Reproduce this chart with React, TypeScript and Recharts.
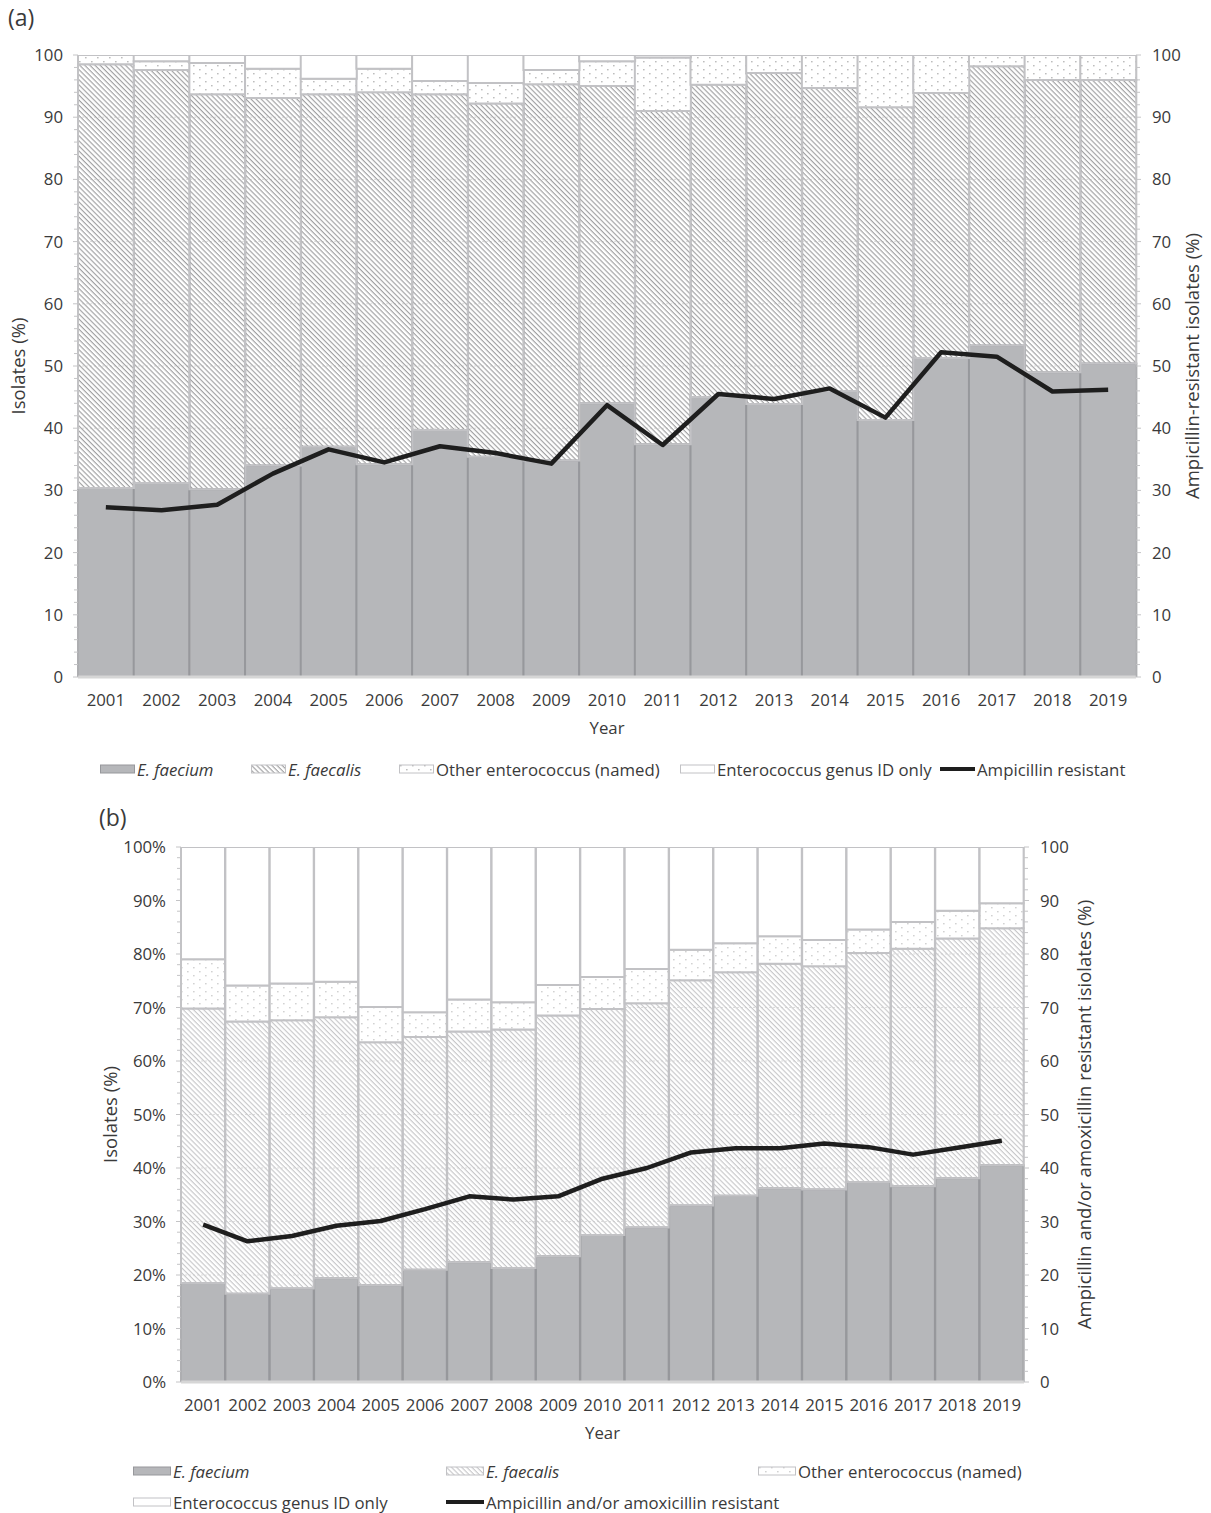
import React from 'react';
import { ComposedChart, Bar, Line, XAxis, YAxis, CartesianGrid } from 'recharts';

// ---------- data ----------
const years = ['2001', '2002', '2003', '2004', '2005', '2006', '2007', '2008', '2009', '2010',
  '2011', '2012', '2013', '2014', '2015', '2016', '2017', '2018', '2019'];

// Panel (a)
const aFaecium = [30.4, 31.2, 30.2, 34.0, 37.0, 34.2, 39.7, 35.4, 34.8, 44.0, 37.4, 45.0, 43.9, 46.0, 41.3, 51.3, 53.3, 49.0, 50.4];
const aFaecalis = [68.1, 66.4, 63.5, 59.1, 56.7, 59.8, 54.0, 56.8, 60.5, 51.0, 53.6, 50.2, 53.2, 48.7, 50.3, 42.6, 44.9, 47.0, 45.6];
const aOther = [1.5, 1.4, 5.0, 4.7, 2.5, 3.8, 2.1, 3.3, 2.3, 4.0, 8.6, 4.8, 2.9, 5.3, 8.4, 6.1, 1.8, 4.0, 4.0];
const aGenus = [0, 1.0, 1.3, 2.2, 3.8, 2.2, 4.2, 4.5, 2.4, 1.0, 0.4, 0, 0, 0, 0, 0, 0, 0, 0];
const aResistant = [27.3, 26.8, 27.7, 32.7, 36.6, 34.5, 37.1, 36.0, 34.3, 43.7, 37.3, 45.5, 44.7, 46.4, 41.7, 52.2, 51.5, 45.9, 46.2];

// Panel (b)
const bFaecium = [18.5, 16.5, 17.5, 19.4, 18.1, 21.0, 22.4, 21.3, 23.5, 27.5, 28.9, 33.0, 34.8, 36.2, 36.0, 37.4, 36.6, 38.1, 40.5];
const bFaecalis = [51.3, 50.9, 50.1, 48.8, 45.4, 43.5, 43.1, 44.6, 45.0, 42.2, 41.9, 42.1, 41.8, 42.0, 41.7, 42.8, 44.4, 44.8, 44.3];
const bOther = [9.2, 6.7, 6.9, 6.6, 6.6, 4.6, 6.0, 5.1, 5.7, 6.0, 6.4, 5.7, 5.4, 5.1, 4.9, 4.4, 5.0, 5.2, 4.7];
const bGenus = [21.0, 25.9, 25.5, 25.2, 29.9, 30.9, 28.5, 29.0, 25.8, 24.3, 22.8, 19.2, 18.0, 16.7, 17.4, 15.4, 14.0, 11.9, 10.5];
const bResistant = [29.4, 26.3, 27.3, 29.2, 30.1, 32.3, 34.7, 34.1, 34.7, 38.0, 40.0, 42.9, 43.7, 43.7, 44.6, 43.9, 42.5, 43.8, 45.1];

const yTicks = [0, 2, 4, 6, 8, 10, 12, 14, 16, 18, 20, 22, 24, 26, 28, 30, 32, 34, 36, 38, 40, 42, 44, 46, 48, 50,
  52, 54, 56, 58, 60, 62, 64, 66, 68, 70, 72, 74, 76, 78, 80, 82, 84, 86, 88, 90, 92, 94, 96, 98, 100];
const majorTicks = [0, 10, 20, 30, 40, 50, 60, 70, 80, 90, 100];

const legendA = ['E. faecium', 'E. faecalis', 'Other enterococcus (named)', 'Enterococcus genus ID only', 'Ampicillin resistant'];
const legendB = ['E. faecium', 'E. faecalis', 'Other enterococcus (named)', 'Enterococcus genus ID only', 'Ampicillin and/or amoxicillin resistant'];

// ---------- styles ----------
const FONT = '"Open Sans", "Noto Sans", sans-serif';
const TEXT = '#3a3a3a';
const FS = 16.8;
const TITLE_FS = 18.5;
const FAECIUM_FILL = '#b6b7ba';
const FAECIUM_STROKE = '#97989c';
const LIGHT_STROKE = '#c2c2c5';
const LINE_COLOR = '#1e1e1e';

const rows = (f: number[], fa: number[], o: number[], g: number[], r: number[]) =>
  years.map((year, i) => ({ year, faecium: f[i], faecalis: fa[i], other: o[i], genus: g[i], resistant: r[i] }));

const dataA = rows(aFaecium, aFaecalis, aOther, aGenus, aResistant);
const dataB = rows(bFaecium, bFaecalis, bOther, bGenus, bResistant);

const makeYTick = (side: 'left' | 'right', gap: number, suffix: string) => (props: any) => {
  const { x, y, payload } = props;
  const v = payload.value;
  const major = v % 10 === 0;
  const axisX = side === 'left' ? x + gap : x - gap;
  const len = major ? 5 : 4;
  const x2 = side === 'left' ? axisX - len : axisX + len;
  return (
    <g>
      <line x1={axisX} y1={y} x2={x2} y2={y} stroke="#c4c4c6" strokeWidth={1} />
      {major && (
        <text x={x} y={y} dy="0.36em" textAnchor={side === 'left' ? 'end' : 'start'}
          fill={TEXT} fontSize={FS} fontFamily={FONT}>{`${v}${suffix}`}</text>
      )}
    </g>
  );
};

const XTick = (props: any) => {
  const { x, y, payload } = props;
  return (
    <text x={x} y={y} dy="0.36em" textAnchor="middle" fill={TEXT} fontSize={FS} fontFamily={FONT}>
      {payload.value}
    </text>
  );
};

const gridGen = (props: any) => {
  const off = props && props.offset;
  const yAxis = props && props.yAxis;
  return majorTicks.filter((v) => v > 0 && v < 100).map((v) => {
    if (yAxis && typeof yAxis.scale === 'function') return yAxis.scale(v);
    return off.top + off.height * (1 - v / 100);
  });
};

const vLabel = (text: string, dx: number) => (props: any) => {
  const vb = props.viewBox || { x: 0, y: 0, width: 0, height: 0 };
  const cx = vb.x + dx;
  const cy = vb.y + vb.height / 2;
  return (
    <text x={cx} y={cy} dy="0.36em" textAnchor="middle" transform={`rotate(-90 ${cx} ${cy})`}
      fill={TEXT} fontSize={TITLE_FS} fontFamily={FONT}>{text}</text>
  );
};

const yearLabel = (props: any) => {
  const vb = props.viewBox || { x: 0, y: 0, width: 0, height: 0 };
  return (
    <text x={vb.x + vb.width / 2} y={vb.y + 51} dy="0.36em" textAnchor="middle" fill={TEXT}
      fontSize={FS} fontFamily={FONT}>Year</text>
  );
};

const Patterns = ({ id, hatch, dots }: { id: string; hatch: string; dots: string }) => (
  <defs>
    <pattern id={`hatch${id}`} patternUnits="userSpaceOnUse" width={4} height={3.6} patternTransform="rotate(45)">
      <line x1={0} y1={0.6} x2={4} y2={0.6} stroke={hatch} strokeWidth={1.1} />
    </pattern>
    <pattern id={`dots${id}`} patternUnits="userSpaceOnUse" width={12} height={8}>
      <rect x={0} y={0} width={12} height={8} fill="#ffffff" />
      <rect x={1} y={1} width={1.6} height={1.4} fill={dots} />
      <rect x={7} y={5} width={1.6} height={1.4} fill={dots} />
    </pattern>
  </defs>
);

type PanelProps = {
  id: string;
  data: any[];
  height: number;
  top: number;
  leftW: number;
  rightW: number;
  xTickMargin: number;
  suffix: string;
  leftTitle: string;
  rightTitle: string;
  leftTitleDx: number;
  rightTitleDx: number;
  hatch: string;
  dots: string;
};

const Panel = (p: PanelProps) => (
  <ComposedChart width={1211} height={p.height} data={p.data} barCategoryGap={0} barGap={0}
    margin={{ top: p.top, right: 0, bottom: 0, left: 0 }}>
    <Patterns id={p.id} hatch={p.hatch} dots={p.dots} />
    <CartesianGrid yAxisId="left" vertical={false} stroke="#dedede" strokeDasharray="2 2"
      horizontalCoordinatesGenerator={gridGen} />
    <XAxis dataKey="year" height={68} interval={0} tickLine={false} tickSize={6} tickMargin={p.xTickMargin}
      axisLine={{ stroke: '#d6d6d6', strokeWidth: 3 }} tick={<XTick />} label={{ content: yearLabel }} />
    <YAxis yAxisId="left" orientation="left" width={p.leftW} domain={[0, 100]} ticks={yTicks} interval={0}
      allowDataOverflow tickLine={false} tickSize={5} tickMargin={10} axisLine={{ stroke: '#c4c4c6' }}
      tick={makeYTick('left', 15, p.suffix)} label={{ content: vLabel(p.leftTitle, p.leftTitleDx) }} />
    <YAxis yAxisId="right" orientation="right" width={p.rightW} domain={[0, 100]} ticks={yTicks} interval={0}
      allowDataOverflow tickLine={false} tickSize={5} tickMargin={11} axisLine={{ stroke: '#c4c4c6' }}
      tick={makeYTick('right', 16, '')} label={{ content: vLabel(p.rightTitle, p.rightTitleDx) }} />
    <Bar yAxisId="left" dataKey="faecium" stackId="s" fill={FAECIUM_FILL} stroke={FAECIUM_STROKE}
      strokeWidth={2} isAnimationActive={false} />
    <Bar yAxisId="left" dataKey="faecalis" stackId="s" fill={`url(#hatch${p.id})`} stroke={LIGHT_STROKE}
      strokeWidth={2} isAnimationActive={false} />
    <Bar yAxisId="left" dataKey="other" stackId="s" fill={`url(#dots${p.id})`} stroke={LIGHT_STROKE}
      strokeWidth={2} isAnimationActive={false} />
    <Bar yAxisId="left" dataKey="genus" stackId="s" fill="#ffffff" stroke={LIGHT_STROKE}
      strokeWidth={2} isAnimationActive={false} />
    <Line yAxisId="right" dataKey="resistant" type="linear" stroke={LINE_COLOR} strokeWidth={4.5}
      strokeLinejoin="round" dot={false} activeDot={false} isAnimationActive={false} />
  </ComposedChart>
);

const Swatch = ({ kind, id, w }: { kind: number; id: string; w: number }) => {
  if (kind === 4) {
    return (
      <svg width={w} height={10} style={{ display: 'block' }}>
        <line x1={0} y1={5} x2={w} y2={5} stroke={LINE_COLOR} strokeWidth={4} />
      </svg>
    );
  }
  const fills = [FAECIUM_FILL, `url(#hatch${id})`, `url(#dots${id})`, '#ffffff'];
  const strokes = [FAECIUM_STROKE, LIGHT_STROKE, LIGHT_STROKE, LIGHT_STROKE];
  return (
    <svg width={w} height={10} style={{ display: 'block' }}>
      <rect x={0.5} y={1} width={w - 1} height={8} fill={fills[kind]} stroke={strokes[kind]} strokeWidth={1} />
    </svg>
  );
};

const LegendItem = ({ label, kind, id, left, cy, w }: any) => (
  <div style={{ position: 'absolute', left, top: cy - 12, height: 24, display: 'flex', alignItems: 'center',
    whiteSpace: 'nowrap' }}>
    <Swatch kind={kind} id={id} w={w} />
    <span style={{ marginLeft: 2, fontSize: FS, color: TEXT, fontFamily: FONT,
      fontStyle: kind < 2 ? 'italic' : 'normal' }}>{label}</span>
  </div>
);

const posA = [{ left: 100, cy: 769 }, { left: 251, cy: 769 }, { left: 399, cy: 769 }, { left: 680, cy: 769 }, { left: 940, cy: 769 }];
const posB = [{ left: 133, cy: 1471 }, { left: 446, cy: 1471 }, { left: 758, cy: 1471 }, { left: 133, cy: 1502 }, { left: 446, cy: 1502 }];

export default function App() {
  return (
    <div style={{ position: 'absolute', left: 0, top: 0, width: 1211, height: 1513, background: '#ffffff',
      fontFamily: FONT, overflow: 'hidden' }}>
      <div style={{ position: 'absolute', left: 8, top: 1, fontSize: 23, color: TEXT }}>(a)</div>
      <div style={{ position: 'absolute', left: 99, top: 801, fontSize: 23, color: TEXT }}>(b)</div>

      <div style={{ position: 'absolute', left: 0, top: 0 }}>
        <Panel id="A" data={dataA} height={745} top={55} leftW={78} rightW={75} xTickMargin={17} suffix=""
          leftTitle="Isolates (%)" rightTitle="Ampicillin-resistant isolates (%)" leftTitleDx={18} rightTitleDx={56}
          hatch="#9a9a9c" dots="#bdbdbd" />
      </div>
      <div style={{ position: 'absolute', left: 0, top: 790 }}>
        <Panel id="B" data={dataB} height={660} top={57} leftW={181} rightW={187} xTickMargin={17} suffix="%"
          leftTitle="Isolates (%)" rightTitle="Ampicillin and/or amoxicillin resistant isiolates (%)"
          leftTitleDx={110} rightTitleDx={60} hatch="#c4c4c6" dots="#d2d2d2" />
      </div>

      {legendA.map((label, i) => (
        <LegendItem key={`a${i}`} label={label} kind={i} id="A" left={posA[i].left} cy={posA[i].cy} w={35} />
      ))}
      {legendB.map((label, i) => (
        <LegendItem key={`b${i}`} label={label} kind={i} id="B" left={posB[i].left} cy={posB[i].cy} w={38} />
      ))}
    </div>
  );
}
